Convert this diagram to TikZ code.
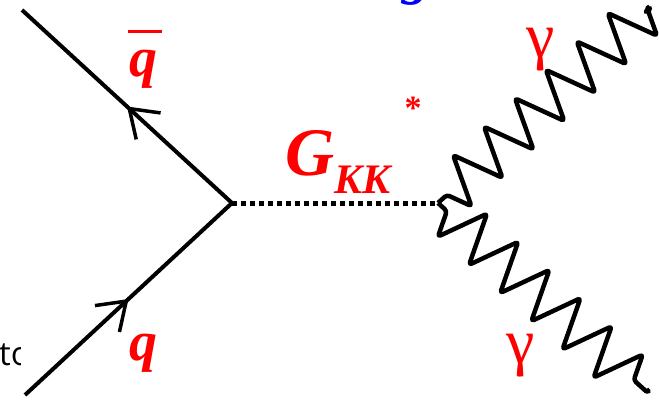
\documentclass[tikz,border=0pt]{standalone}
\usepackage{fontspec}
\usepackage{tikz}
\usetikzlibrary{arrows.meta,decorations.pathmorphing,decorations.markings}
\newfontfamily\labelfont{Liberation Serif}
\newfontfamily\notefont{Open Sans}
\definecolor{lblred}{RGB}{255,0,0}
\definecolor{lblblue}{RGB}{0,0,255}

\begin{document}
\begin{tikzpicture}[x=1pt, y=-1pt,
    fermion/.style={line width=4pt, postaction={decorate},
        decoration={markings, mark=at position 0.5 with {\arrow{Straight Barb[length=26pt,width=36pt,line width=3.5pt]}}}},
    graviton/.style={line width=5pt, dash pattern=on 5pt off 4pt},
    photon/.style={line width=4.5pt, rounded corners=3pt, line join=round, decorate,
        decoration={zigzag, mirror, amplitude=25pt, segment length=42pt, pre=lineto, pre length=12pt}},
    lbl/.style={text=lblred, inner sep=0pt, font=\labelfont\bfseries\itshape\fontsize{56}{56}\selectfont},
    glbl/.style={text=lblred, inner sep=0pt, font=\labelfont\fontsize{64}{64}\selectfont}]

    \useasboundingbox (0,0) rectangle (660,399);
    \clip (0,0) rectangle (660,399);

    % Vertices and ends
    \coordinate (vq) at (232,203);
    \coordinate (vg) at (438,203);
    \coordinate (qin) at (25,395);
    \coordinate (qout) at (22,10);
    \coordinate (gup) at (648,10);
    \coordinate (gdown) at (648,393);

    \draw[fermion] (qin) -- (vq);
    \draw[fermion] (vq) -- (qout);
    \draw[graviton] (vq) -- (vg);
    \draw[photon] (vg) -- (gup);
    \draw[photon] (vg) -- (gdown);

    % Labels
    \node[lbl] (qlbl) at (143,353) {q};
    \node[lbl] (qbarlbl) at (143,69) {q};
    \draw[lblred, line width=3.5pt] ([xshift=-1pt,yshift=18pt]qbarlbl.north west) -- ([xshift=5pt,yshift=18pt]qbarlbl.north east);
    \node[lbl, anchor=base west] (gkk) at (285,175)
        {\fontsize{68}{68}\selectfont G\raisebox{-18pt}{\fontsize{42}{42}\selectfont KK}};
    \node[lbl, font=\labelfont\bfseries\fontsize{34}{34}\selectfont] (star) at (413,108) {*};
    \node[glbl] (gamup) at (541,50) {γ};
    \node[glbl] (gamdown) at (521,356) {γ};
    \node[lbl, text=lblblue, anchor=south] (gtop) at (416,6) {g};

    \begin{scope}
        \clip (0,330) rectangle (20,375);
        \node[font=\notefont\fontsize{33}{33}\selectfont, anchor=base west, inner sep=0pt] (note) at (-1,365) {to};
    \end{scope}
\end{tikzpicture}
\end{document}
